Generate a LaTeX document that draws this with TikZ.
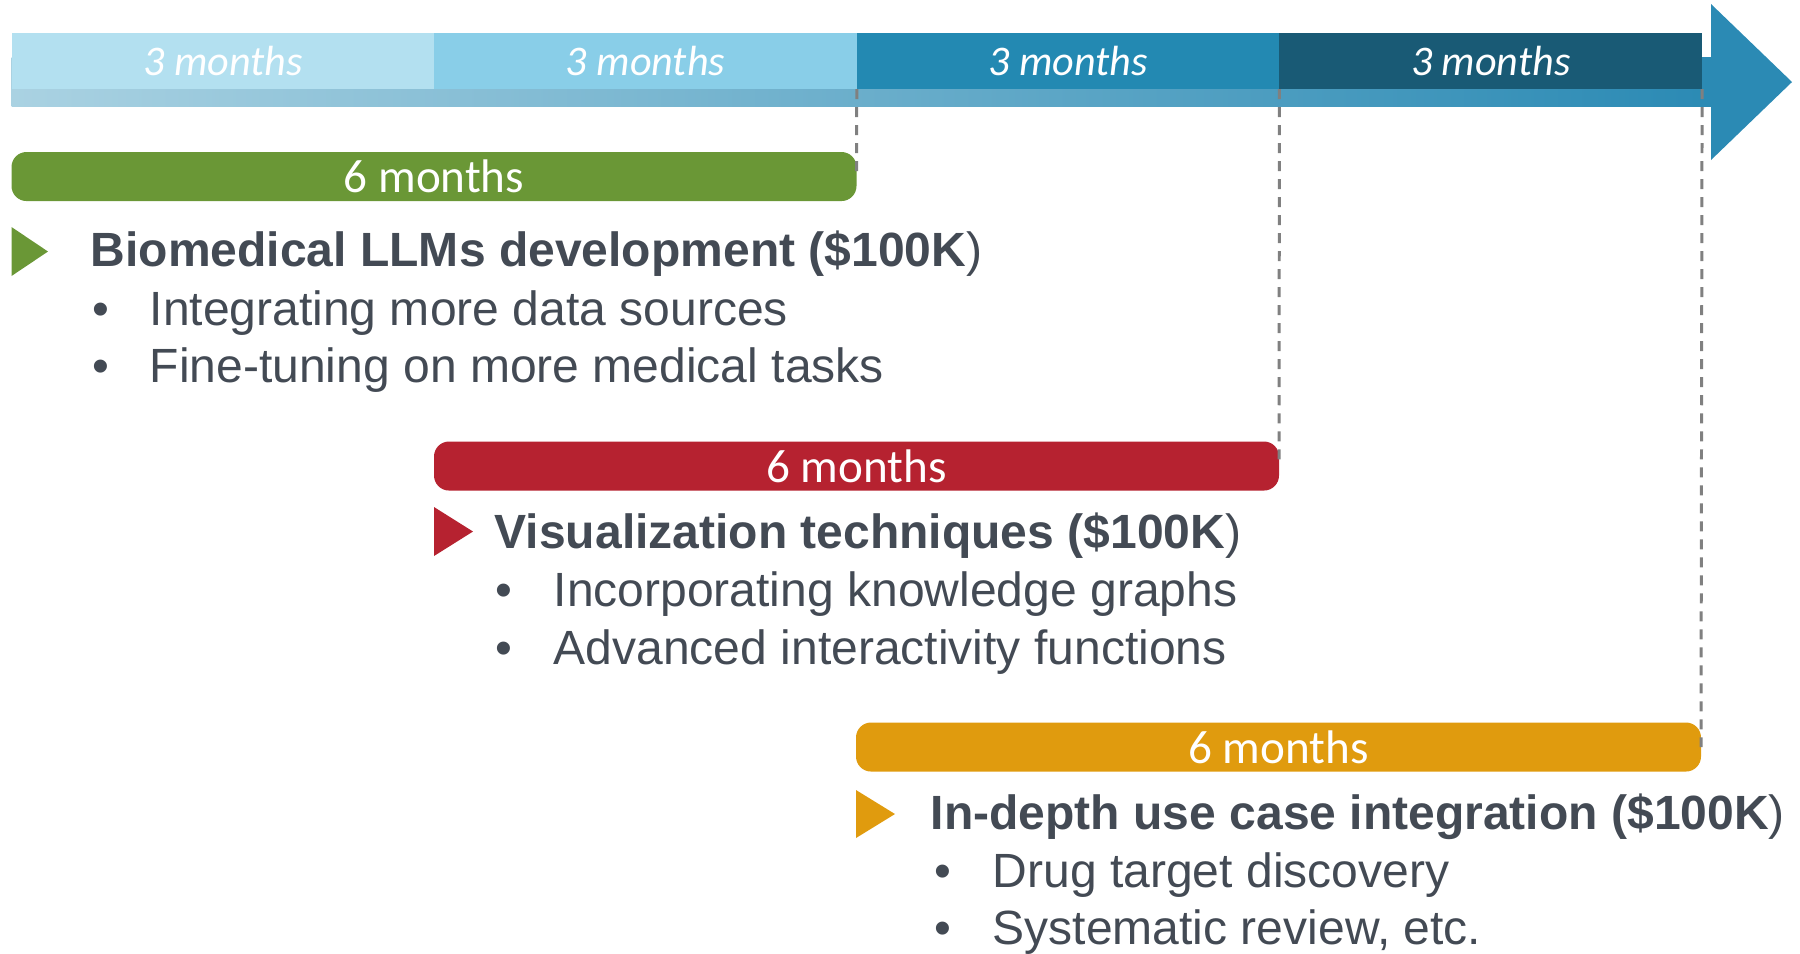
\documentclass[tikz,border=0pt]{standalone}
\usepackage{fontspec}
\setmainfont{Liberation Sans}
\newfontfamily\calibri{Carlito}
\usetikzlibrary{positioning}
\definecolor{bandA}{RGB}{179,224,240}
\definecolor{bandB}{RGB}{137,206,232}
\definecolor{bandC}{RGB}{35,137,178}
\definecolor{bandD}{RGB}{25,90,117}
\definecolor{stripL}{RGB}{170,210,226}
\definecolor{stripR}{RGB}{43,138,180}
\definecolor{phaseG}{RGB}{106,151,54}
\definecolor{phaseR}{RGB}{182,34,48}
\definecolor{phaseO}{RGB}{224,155,14}
\definecolor{textgray}{RGB}{67,74,84}
\definecolor{dashgray}{RGB}{128,128,128}

\begin{document}
\begin{tikzpicture}[x=0.01cm,y=-0.01cm,
    band/.style={minimum width=4.224cm,minimum height=0.56cm,inner sep=0pt,outer sep=0pt,
        text=white,font=\calibri\itshape\fontsize{12}{12}\selectfont},
    phase/.style={rounded corners=0.15cm,minimum width=8.445cm,minimum height=0.49cm,
        inner sep=0pt,outer sep=0pt,anchor=west,text=white,font=\calibri\fontsize{13.4}{14}\selectfont},
    head/.style={anchor=base west,inner sep=0pt,text=textgray,font=\bfseries\fontsize{13.66}{16}\selectfont},
    item/.style={anchor=base west,inner sep=0pt,text=textgray,font=\fontsize{13.66}{16}\selectfont},
    dashline/.style={draw=dashgray,line width=0.85pt,dash pattern=on 0.1cm off 0.08cm}]

\useasboundingbox (0,0) rectangle (1800,953);

\fill[left color=stripL,right color=stripR] (11.5,57) rectangle (1711,106);
\fill[stripR] (1711,4) -- (1792,82) -- (1711,160) -- cycle;

\node[band,fill=bandA,anchor=north west] (band1) at (11.5,33) {3 months};
\node[band,fill=bandB,right=0pt of band1] (band2) {3 months};
\node[band,fill=bandC,right=0pt of band2] (band3) {3 months};
\node[band,fill=bandD,right=0pt of band3] (band4) {3 months};

\node[phase,fill=phaseG] (green) at (11.5,176.5) {6 months};
\node[phase,fill=phaseR] (red) at (434,466) {6 months};
\node[phase,fill=phaseO] (orange) at (856,747) {6 months};

\draw[dashline] (band2.south east) -- (green.east);
\draw[dashline] (band3.south east) -- (red.east);
\draw[dashline] (band4.south east) -- (orange.east);

\fill[phaseG] (11.5,227) -- (48,251.5) -- (11.5,276) -- cycle;
\node[head] (llm) at (90,266) {Biomedical LLMs development (\$100K{\mdseries)}};
\node[item] (llmdot1) at (92,325) {\textbullet};
\node[item] (llm1) at (149,325) {Integrating more data sources};
\node[item] (llmdot2) at (92,382) {\textbullet};
\node[item] (llm2) at (149,382) {Fine-tuning on more medical tasks};

\fill[phaseR] (434,507) -- (473,531.5) -- (434,556) -- cycle;
\node[head] (vis) at (494,548) {Visualization techniques (\$100K{\mdseries)}};
\node[item] (visdot1) at (495,606) {\textbullet};
\node[item] (vis1) at (553,606) {Incorporating knowledge graphs};
\node[item] (visdot2) at (495,664) {\textbullet};
\node[item] (vis2) at (553,664) {Advanced interactivity functions};

\fill[phaseO] (856,790) -- (895,814) -- (856,838) -- cycle;
\node[head] (use) at (930,829) {In-depth use case integration (\$100K{\mdseries)}};
\node[item] (usedot1) at (934,887) {\textbullet};
\node[item] (use1) at (992,887) {Drug target discovery};
\node[item] (usedot2) at (934,944) {\textbullet};
\node[item] (use2) at (992,944) {Systematic review, etc.};

\end{tikzpicture}
\end{document}
